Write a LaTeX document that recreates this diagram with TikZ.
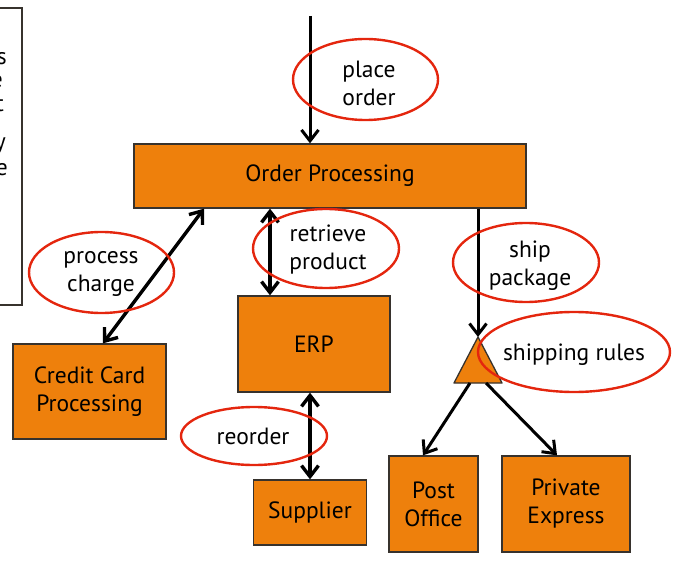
\documentclass[tikz,border=0pt]{standalone}
\usepackage{fontspec}
\setmainfont{PT Sans}
\usetikzlibrary{arrows.meta,calc}
\definecolor{boxfill}{RGB}{238,128,12}
\definecolor{boxline}{RGB}{55,50,45}
\definecolor{ringred}{RGB}{228,38,14}
\tikzset{
  box/.style={draw=boxline, line width=1.3pt, fill=boxfill, align=center,
    inner sep=0pt, font=\fontsize{23.5}{28}\selectfont},
  lab/.style={align=center, inner sep=0pt, font=\fontsize{23.5}{28}\selectfont},
  ring/.style={draw=ringred, line width=2.4pt},
  flow/.style={line width=3pt, line join=round,
    arrows={-Straight Barb[length=11pt,width=17pt,line width=3pt]}},
  flow2/.style={line width=3.4pt, line join=round,
    arrows={Straight Barb[length=11pt,width=17pt,line width=3.4pt]-Straight Barb[length=11pt,width=17pt,line width=3.4pt]}},
  frag/.style={inner sep=0pt, anchor=base east, font=\fontsize{23.5}{28}\selectfont}
}
\begin{document}
\begin{tikzpicture}[x=1pt,y=-1pt]
\useasboundingbox (0,0) rectangle (679,561);

% side note panel, running past the page edge
\draw[draw=boxline, line width=1.2pt] (-10,8) rectangle (22,305);
\node[frag] (f1) at (7,65) {s};
\node[frag] (f2) at (3,88) {e};
\node[frag] (f3) at (4,112) {t};
\node[frag] (f4) at (6,150) {y};
\node[frag] (f5) at (8,176) {e};

% process boxes
\node[box, minimum width=392pt, minimum height=64pt] (op) at (330,176) {Order Processing};
\node[box, minimum width=153pt, minimum height=95pt] (cc) at (89.5,391.5) {Credit Card\\Processing};
\node[box, minimum width=152pt, minimum height=96pt] (erp) at (314,344) {ERP};
\node[box, minimum width=113pt, minimum height=65pt] (sup) at (310,512.5) {Supplier};
\node[box, minimum width=89pt, minimum height=96pt] (po) at (433.5,504) {Post\\Office};
\node[box, minimum width=128pt, minimum height=96pt] (pe) at (566,504) {Private\\Express};

% shipping decision triangle
\coordinate (apex) at (478,337);
\coordinate (tl) at (454,383);
\coordinate (tr) at (502,383);
\draw[draw=boxline, line width=1.3pt, fill=boxfill, line join=round] (apex) -- (tl) -- (tr) -- cycle;
\coordinate (tlo) at (470,383);
\coordinate (tro) at (486,383);

% connectors
\coordinate (in) at (310,16);
\draw[flow] (in) -- (in |- op.north);
\draw[flow2] ([xshift=13.5pt]cc.north) -- ([xshift=-126pt]op.south);
\draw[flow2] ([xshift=-60pt]op.south) -- ([xshift=-44pt]erp.north);
\draw[flow2] ([xshift=-4pt]erp.south) -- (sup.north);
\draw[flow] ([xshift=148pt]op.south) -- (apex);
\draw[flow] (tlo) -- ([xshift=-10.5pt]po.north);
\draw[flow] (tro) -- ([xshift=-9pt]pe.north);

% message labels with red rings
\node[lab] (lpo) at (369,83) {place\\order};
\draw[ring] (365.5,79.5) ellipse [x radius=72.5, y radius=40.5];
\node[lab] (lpc) at (101,274) {process\\charge};
\draw[ring] (101.5,272.5) ellipse [x radius=72.5, y radius=40.5];
\node[lab] (lrp) at (328,250) {retrieve\\product};
\draw[ring] (326,248.5) ellipse [x radius=73, y radius=39.5];
\node[lab] (lro) at (253,436) {reorder};
\draw[ring] (254,436) ellipse [x radius=73, y radius=29];
\node[lab] (lsp) at (530,266) {ship\\package};
\draw[ring] (526,262.5) ellipse [x radius=73, y radius=39.5];
\node[lab] (lsr) at (574,355) {shipping rules};
\draw[ring] (574,352) ellipse [x radius=96, y radius=40];
\end{tikzpicture}
\end{document}
